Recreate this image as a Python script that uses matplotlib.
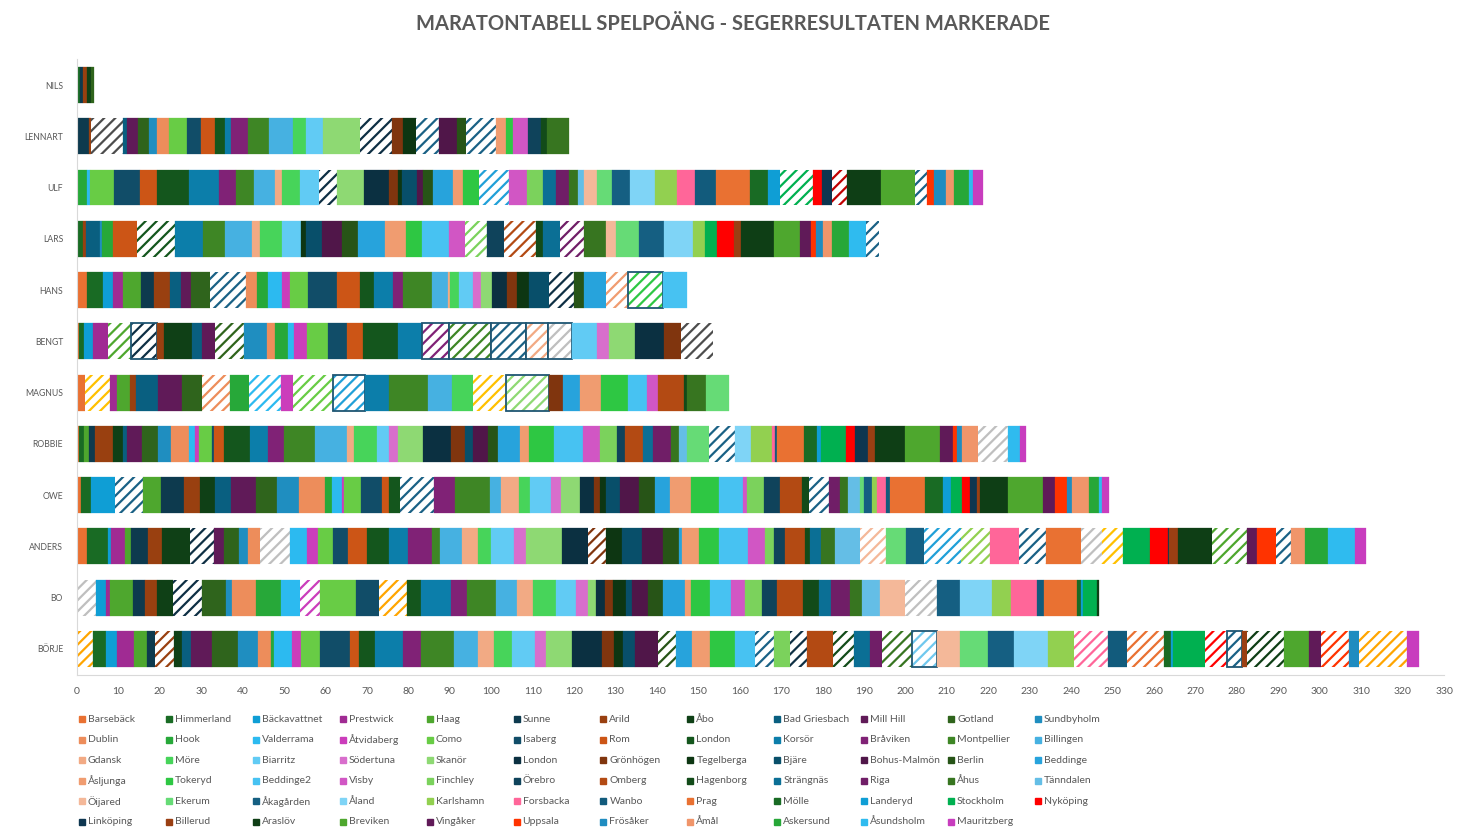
import colorsys
import matplotlib
matplotlib.use('Agg')
import matplotlib.pyplot as plt
from matplotlib.colors import to_rgb
from matplotlib.patches import Rectangle

plt.rcParams['font.family'] = ['Lato', 'DejaVu Sans']
plt.rcParams['hatch.linewidth'] = 1.6

TITLE = 'MARATONTABELL SPELPOÄNG - SEGERRESULTATEN MARKERADE'

venues = ['Barsebäck', 'Himmerland', 'Bäckavattnet', 'Prestwick', 'Haag', 'Sunne',
          'Arild', 'Åbo', 'Bad Griesbach', 'Mill Hill', 'Gotland', 'Sundbyholm',
          'Dublin', 'Hook', 'Valderrama', 'Åtvidaberg', 'Como', 'Isaberg',
          'Rom', 'London', 'Korsör', 'Bråviken', 'Montpellier', 'Billingen',
          'Gdansk', 'Möre', 'Biarritz', 'Södertuna', 'Skanör', 'London',
          'Grönhögen', 'Tegelberga', 'Bjäre', 'Bohus-Malmön', 'Berlin', 'Beddinge',
          'Åsljunga', 'Tokeryd', 'Beddinge2', 'Visby', 'Finchley', 'Örebro',
          'Omberg', 'Hagenborg', 'Strängnäs', 'Riga', 'Åhus', 'Tänndalen',
          'Öijared', 'Ekerum', 'Åkagården', 'Åland', 'Karlshamn', 'Forsbacka',
          'Wanbo', 'Prag', 'Mölle', 'Landeryd', 'Stockholm', 'Nyköping',
          'Linköping', 'Billerud', 'Araslöv', 'Breviken', 'Vingåker', 'Uppsala',
          'Frösåker', 'Åmål', 'Askersund', 'Åsundsholm', 'Mauritzberg']

players = ['BÖRJE', 'BO', 'ANDERS', 'OWE', 'ROBBIE', 'MAGNUS',
           'BENGT', 'HANS', 'LARS', 'ULF', 'LENNART', 'NILS']

# (venue index, points[, hatch colour[, outlined]])  hatch = winning result
nils = [(1, 0.8), (5, 0.6), (6, 1.1), (7, 1.0), (10, 0.5)]

lennart = [(4, 0.2), (5, 2.8), (6, 0.3), (7, 7.7, 'gray'), (8, 1.0), (9, 2.8), (10, 2.6),
           (11, 1.8), (12, 3.0), (16, 4.3), (17, 3.4), (18, 3.5), (19, 2.3), (20, 1.4),
           (21, 4.3), (22, 4.9), (23, 5.8), (25, 3.2), (26, 4.1), (28, 8.8), (29, 7.8, 'navy'),
           (30, 2.7), (31, 3.2), (32, 5.6, 'teal'), (33, 4.3), (34, 2.1), (35, 7.2, 'teal'),
           (36, 2.4), (37, 1.8), (39, 3.5), (41, 3.3), (43, 1.4), (46, 5.2)]

ulf = [(13, 2.3), (14, 0.8), (16, 5.9), (17, 6.2), (18, 4.1), (19, 7.8), (20, 7.2), (21, 4.0),
       (22, 4.5), (23, 5.1), (24, 1.5), (25, 4.5), (26, 4.6), (27, 4.3, 'navy'), (28, 6.6),
       (29, 5.9), (30, 2.3), (31, 0.8), (32, 3.7), (33, 1.4), (34, 2.4), (35, 4.8), (36, 2.4),
       (37, 3.9), (38, 7.3, 'blue'), (39, 4.3), (40, 4.0), (44, 3.0), (45, 3.2), (46, 2.2),
       (47, 1.4), (48, 3.2), (49, 3.6), (50, 4.4), (51, 5.9), (52, 5.4), (53, 4.3), (54, 5.0),
       (55, 8.3), (56, 4.4), (57, 2.8), (58, 8.0, 'own'), (59, 2.2), (60, 2.3), (61, 3.6, 'red'),
       (62, 8.4), (63, 8.1), (64, 3.0, 'teal'), (65, 1.6), (66, 2.8), (67, 2.0), (68, 3.6),
       (69, 1.0), (70, 2.4)]

lars = [(1, 1.4), (6, 0.8), (8, 3.4), (11, 0.5), (13, 2.6), (18, 5.9), (19, 9.1, 'own'),
        (20, 6.7), (22, 5.4), (23, 6.4), (24, 2.0), (25, 5.2), (26, 4.7), (31, 1.3), (32, 3.7),
        (33, 4.9), (34, 3.9), (35, 6.4), (36, 5.1), (37, 3.9), (38, 6.5), (39, 3.8),
        (40, 5.4, 'own'), (41, 4.1), (42, 7.6, 'own'), (43, 1.9), (44, 4.0), (45, 5.9, 'own'),
        (46, 5.1), (48, 2.5), (49, 5.6), (50, 6.0), (51, 7.0), (52, 2.9), (58, 2.8), (59, 4.2),
        (61, 1.6), (62, 8.0), (63, 6.3), (64, 2.8), (65, 1.2), (66, 1.7), (67, 2.0), (68, 4.1),
        (69, 4.2), (70, 3.2, 'teal')]

hans = [(0, 2.3), (1, 3.9), (2, 2.6), (3, 2.4), (4, 4.2), (5, 3.2), (6, 3.9), (8, 2.7),
        (9, 2.4), (10, 4.5), (11, 8.7, 'teal'), (12, 2.7), (13, 2.6), (14, 3.5), (15, 1.8),
        (16, 4.4), (17, 7.0), (18, 5.6), (19, 3.2), (20, 4.8), (21, 2.4), (22, 6.8), (23, 3.9),
        (24, 0.6), (25, 2.2), (26, 3.4), (27, 1.9), (28, 2.7), (29, 3.6), (30, 2.3), (31, 2.9),
        (32, 4.8), (33, 6.1, 'navy'), (34, 2.4), (35, 5.4), (36, 5.2, 'own'),
        (37, 8.4, 'own', 1), (38, 5.8)]

bengt = [(0, 0.6), (1, 1.1), (2, 2.1), (3, 3.6), (4, 5.6, 'own'), (5, 6.3, 'navy', 1),
         (6, 1.7), (7, 6.8), (8, 2.4), (9, 3.0), (10, 7.0, 'own'), (11, 5.6), (12, 2.1),
         (13, 3.0), (14, 1.6), (15, 3.1), (16, 5.1), (17, 4.5), (18, 3.9), (19, 8.3), (20, 6.0),
         (21, 6.4, 'own', 1), (22, 10.2, 'own', 1), (23, 8.4, 'teal', 1), (24, 5.3, 'own', 1),
         (25, 5.9, 'lgray', 1), (26, 5.9), (27, 3.0), (28, 6.1), (29, 7.2), (30, 4.0),
         (31, 7.8, 'gray')]

magnus = [(0, 1.85), (1, 6.1, 'yellow'), (3, 1.6), (4, 3.3), (6, 1.4), (8, 5.3), (9, 5.7),
          (10, 4.9), (12, 6.8, 'own'), (13, 4.6), (14, 7.7, 'own'), (15, 3.0), (16, 9.45, 'own'),
          (17, 7.9, 'blue', 1), (20, 5.7), (22, 9.4), (23, 5.9), (25, 5.05), (26, 8.0, 'yellow'),
          (28, 10.35, 'own', 1), (30, 3.25), (35, 4.1), (36, 5.2), (37, 6.4), (38, 4.7),
          (39, 2.65), (42, 6.25), (43, 0.6), (46, 4.7), (49, 5.55)]

robbie = [(0, 0.6), (1, 1.15), (4, 1.05), (5, 1.65), (6, 4.25), (7, 2.5), (8, 0.8), (9, 3.65),
          (10, 4.0), (11, 2.95), (12, 4.5), (14, 1.4), (15, 1.05), (16, 3.0), (17, 0.55),
          (18, 2.3), (19, 6.25), (20, 4.55), (21, 3.7), (22, 7.65), (23, 7.6), (24, 1.6),
          (25, 5.7), (26, 2.85), (27, 2.2), (28, 6.1), (29, 6.75), (30, 3.25), (32, 2.05),
          (33, 3.65), (34, 2.45), (35, 5.1), (36, 2.2), (37, 6.1), (38, 6.9), (39, 4.15),
          (40, 4.2), (41, 1.8), (42, 4.35), (44, 2.45), (45, 4.45), (46, 1.9), (47, 1.8),
          (49, 5.45), (50, 6.35, 'teal'), (51, 3.7), (52, 5.2), (53, 0.55), (54, 0.6), (55, 6.4),
          (56, 3.3), (57, 0.8), (58, 6.15), (59, 2.2), (60, 3.1), (61, 1.8), (62, 7.25),
          (63, 8.4), (64, 2.95), (65, 1.15), (66, 1.05), (67, 3.85), (68, 7.25, 'lgray'),
          (69, 3.1), (70, 1.25)]

owe = [(0, 1.0), (1, 2.45), (2, 5.7), (3, 6.85, 'teal'), (4, 4.3), (5, 5.45), (6, 3.9),
       (7, 3.65), (8, 3.9), (9, 6.1), (10, 5.05), (11, 5.3), (12, 6.25), (13, 1.7), (14, 2.45),
       (15, 0.4), (16, 4.05), (17, 5.05), (18, 1.8), (19, 2.7), (20, 8.15, 'teal'), (21, 5.05),
       (22, 8.4), (23, 2.7), (24, 4.4), (25, 2.5), (26, 5.2), (27, 2.5), (28, 4.5), (29, 3.45),
       (30, 1.3), (31, 1.55), (32, 3.3), (33, 4.6), (34, 3.85), (35, 3.7), (36, 5.1),
       (37, 6.65), (38, 5.75), (39, 1.15), (40, 3.95), (41, 3.85), (42, 5.35), (43, 1.65),
       (44, 5.0, 'teal'), (45, 2.65), (46, 1.8), (47, 2.95), (49, 1.05), (50, 1.8), (52, 1.15),
       (53, 2.15), (54, 1.0), (55, 8.45), (56, 4.3), (57, 2.05), (58, 2.6), (59, 2.05),
       (60, 1.65), (61, 0.8), (62, 6.6), (63, 8.45), (64, 2.85), (65, 2.9), (66, 1.4),
       (67, 3.95), (68, 2.45), (69, 0.8), (70, 1.65)]

anders = [(0, 2.5), (1, 4.9), (2, 0.8), (3, 3.4), (4, 1.4), (5, 4.2), (6, 3.3), (7, 6.7),
          (8, 5.8, 'navy'), (9, 2.6), (10, 3.5), (11, 2.2), (12, 2.9), (13, 7.1, 'lgray'),
          (14, 4.2), (15, 2.7), (16, 3.7), (17, 3.5), (18, 4.5), (19, 5.4), (20, 4.7), (21, 5.6),
          (22, 2.0), (23, 5.4), (24, 3.8), (25, 3.2), (26, 5.5), (27, 3.0), (28, 8.5), (29, 6.4),
          (30, 4.3, 'own'), (31, 3.9), (32, 4.7), (33, 5.1), (34, 3.9), (35, 0.8), (36, 4.0),
          (37, 4.8), (38, 7.1), (39, 4.2), (40, 2.0), (41, 2.6), (42, 4.9), (43, 1.2), (44, 2.6),
          (46, 3.6), (47, 6.0), (48, 6.2, 'own'), (49, 4.9), (50, 4.2), (51, 9.0, 'blue'),
          (52, 7.1, 'own'), (53, 7.0), (54, 6.5, 'teal'), (55, 8.4), (56, 5.1, 'lgray'),
          (57, 5.1, 'yellow'), (58, 6.4), (59, 4.3), (60, 0.3), (61, 2.25), (62, 8.2),
          (63, 8.5, 'own'), (64, 2.4), (65, 4.6), (66, 3.45, 'teal'), (67, 3.4), (68, 5.6),
          (69, 6.6), (70, 2.65)]

bo = [(0, 4.7, 'lgray'), (2, 2.4), (3, 0.8), (4, 5.5), (5, 3.0), (6, 2.8), (7, 4.0),
      (8, 7.0, 'navy'), (10, 5.7), (11, 1.5), (12, 5.9), (13, 5.9), (14, 4.6), (15, 4.8, 'own'),
      (16, 8.8), (17, 5.6), (18, 6.6, 'amber'), (19, 3.45), (20, 7.2), (21, 4.0), (22, 6.8),
      (23, 5.2), (24, 3.8), (25, 5.7), (26, 4.6), (27, 3.05), (28, 2.0), (29, 2.0), (30, 1.9),
      (31, 3.3), (32, 1.4), (33, 3.85), (34, 3.5), (35, 5.5), (36, 1.4), (37, 4.5), (38, 5.2),
      (39, 3.2), (40, 4.2), (41, 3.6), (42, 6.4), (43, 3.8), (44, 2.8), (45, 4.7), (46, 2.8),
      (47, 4.4), (48, 6.0), (49, 7.8, 'lgray'), (50, 5.5), (51, 7.8), (52, 4.5), (53, 6.2),
      (54, 1.85), (55, 8.0), (56, 0.8), (57, 0.55), (58, 3.4), (62, 0.5)]

borje = [(0, 3.9, 'amber'), (1, 3.0), (2, 2.8), (3, 4.1), (4, 3.2), (5, 1.8), (6, 4.6, 'own'),
         (7, 1.85), (8, 2.2), (9, 5.1), (10, 6.2), (11, 5.0), (12, 3.0), (13, 0.8), (14, 4.3),
         (15, 2.25), (16, 4.6), (17, 7.2), (18, 2.2), (19, 3.85), (20, 6.8), (21, 4.4), (22, 7.8),
         (23, 5.9), (24, 3.8), (25, 4.3), (26, 5.5), (27, 2.7), (28, 6.4), (29, 7.1), (30, 3.05),
         (31, 2.0), (32, 3.0), (33, 5.5), (34, 4.3, 'own'), (35, 4.0), (36, 4.3), (37, 6.0),
         (38, 4.8), (39, 4.6, 'teal'), (40, 3.85), (41, 4.2, 'navy'), (42, 6.3), (43, 5.0, 'own'),
         (44, 3.85), (45, 3.0), (46, 7.2, 'own'), (47, 6.1, 'lblue', 1), (48, 5.5), (49, 6.8),
         (50, 6.1), (51, 8.2), (52, 6.3), (53, 8.2, 'own'), (54, 4.65), (55, 9.0, 'own'),
         (56, 1.6), (57, 0.55), (58, 7.7), (59, 5.4, 'own'), (60, 3.45, 'teal', 1), (61, 1.2),
         (62, 9.0, 'own'), (63, 6.0), (64, 3.05), (65, 6.6, 'own'), (66, 2.4),
         (67, 11.6, 'amber'), (70, 3.05)]

rows = [borje, bo, anders, owe, robbie, magnus, bengt, hans, lars, ulf, lennart, nils]

# colours: Excel theme cycle (series 1 hidden) and hand-picked ones after Ekerum
ACCENTS = ['#156082', '#E97132', '#196B24', '#0F9ED5', '#A02B93', '#4EA72E']
TINTS = [(1.0, 0.0), (0.6, 0.0), (0.8, 0.2), (0.8, 0.0), (0.6, 0.4),
         (0.5, 0.0), (0.7, 0.3), (0.7, 0.0), (0.5, 0.5)]
CUSTOM = ['#155F82', '#7FD4F6', '#92D050', '#FF6699', '#125B7C', '#E97132', '#196B24',
          '#0F9ED5', '#00B050', '#FF0000', '#0E3650', '#9A3F13', '#0E3E15', '#4EA72E',
          '#601A58', '#FF3300', '#1F8CC0', '#F0956A', '#27A738', '#2FBBEF', '#C83DBE']
HATCH = {'navy': '#0E2F44', 'teal': '#1A6185', 'gray': '#4D4D4D', 'lgray': '#BFBFBF',
         'yellow': '#FFC000', 'amber': '#FFA500', 'blue': '#20A0D8', 'lblue': '#70C8EE',
         'red': '#C00000'}


def theme_colour(k):
    h, l, s = colorsys.rgb_to_hls(*to_rgb(ACCENTS[k % 6]))
    mod, off = TINTS[k // 6]
    return colorsys.hls_to_rgb(h, l * mod + off, s)


colours = [theme_colour(i + 1) for i in range(50)] + CUSTOM

W, H = 1466, 833
fig = plt.figure(figsize=(W / 100, H / 100), dpi=100)
ax = fig.add_axes([77 / W, 1 - 674.5 / H, (1444 - 77) / W, (674.5 - 59.4) / H])

for y, segs in enumerate(rows):
    left = 0
    for seg in segs:
        v, pts = seg[0], seg[1]
        col = colours[v]
        if len(seg) == 2:
            ax.barh(y, pts, left=left, height=0.7, color=col, edgecolor=col, linewidth=0.2)
        else:
            hc = col if seg[2] == 'own' else HATCH[seg[2]]
            ax.barh(y, pts, left=left, height=0.7, facecolor='white', edgecolor=hc,
                    hatch='///', linewidth=0)
        if len(seg) == 4:
            ax.barh(y, pts, left=left, height=0.7, fill=False, edgecolor='#1F5673',
                    linewidth=1.3)
        left += pts

ax.set_xlim(0, 330)
ax.set_ylim(-0.5, 11.5)
ax.set_xticks(range(0, 331, 10))
ax.set_yticks(range(len(players)))
ax.set_yticklabels(players)
ax.tick_params(axis='x', length=0, pad=9, labelsize=7.5, labelcolor='#595959')
ax.tick_params(axis='y', length=0, pad=10, labelsize=6.2, labelcolor='#595959')
for side in ['top', 'right']:
    ax.spines[side].set_visible(False)
for side in ['left', 'bottom']:
    ax.spines[side].set_color('#D9D9D9')
    ax.spines[side].set_linewidth(0.8)

fig.text(0.5, 1 - 24 / H, TITLE, ha='center', va='center', fontsize=14.5,
         fontweight='bold', color='#595959')

# legend in Excel's row-by-row grid
for i, name in enumerate(venues):
    r, c = divmod(i, 12)
    x = (79 + c * 86.9) / W
    y = 1 - (719.3 + r * 20.5) / H
    fig.patches.append(Rectangle((x, y - 3 / H), 6 / W, 6 / H, transform=fig.transFigure,
                                 color=colours[i]))
    fig.text(x + 9 / W, y, name, ha='left', va='center', fontsize=7.5, color='#595959')

fig.savefig('out.png', dpi=100, facecolor='white')
